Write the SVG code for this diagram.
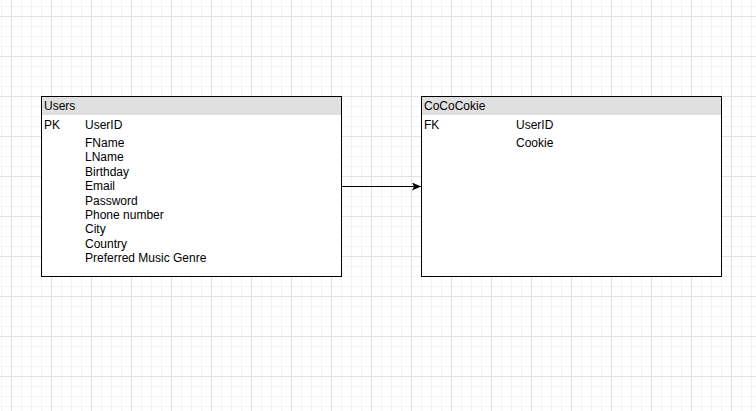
<svg xmlns="http://www.w3.org/2000/svg" width="756" height="411" viewBox="0 0 756 411">
<defs>
<pattern id="minor" x="1" y="6" width="10" height="10" patternUnits="userSpaceOnUse">
<path d="M0.5 0V10M0 0.5H10" stroke="#f3f3f3" stroke-width="1" fill="none"/>
</pattern>
<pattern id="major" x="11" y="16" width="40" height="40" patternUnits="userSpaceOnUse">
<path d="M0.5 0V40M0 0.5H40" stroke="#e2e2e2" stroke-width="1" fill="none"/>
</pattern>
<marker id="arrow" markerWidth="10" markerHeight="8" refX="9" refY="4" orient="auto" markerUnits="userSpaceOnUse">
<path d="M0 0L9 4L0 8L2 4Z" fill="#000"/>
</marker>
<style>
text{font-family:"Liberation Sans",Arial,sans-serif;font-size:12px;fill:#000}
.box{fill:#fff;stroke:#000;stroke-width:1}
.hdr{fill:#e0e0e0}
</style>
</defs>
<rect width="756" height="411" fill="#fff"/>
<rect width="756" height="411" fill="url(#minor)"/>
<rect width="756" height="411" fill="url(#major)"/>
<g id="connectors">
<path d="M342 186.5H421" stroke="#000" stroke-width="1" fill="none" marker-end="url(#arrow)"/>
</g>
<g id="users">
<rect class="box" x="41.5" y="96.5" width="300" height="180"/>
<rect class="hdr" x="42" y="97" width="299" height="18"/>
<text x="44" y="110">Users</text>
<text x="44" y="129">PK</text>
<text x="85" y="129">UserID</text>
<text x="85" y="146.5">FName</text>
<text x="85" y="161">LName</text>
<text x="85" y="175.5">Birthday</text>
<text x="85" y="190">Email</text>
<text x="85" y="204.5">Password</text>
<text x="85" y="219">Phone number</text>
<text x="85" y="233">City</text>
<text x="85" y="247.5">Country</text>
<text x="85" y="262">Preferred Music Genre</text>
</g>
<g id="cococokie">
<rect class="box" x="421.5" y="96.5" width="300" height="180"/>
<rect class="hdr" x="422" y="97" width="299" height="18"/>
<text x="424" y="110">CoCoCokie</text>
<text x="424" y="129">FK</text>
<text x="516" y="129">UserID</text>
<text x="516" y="146.5">Cookie</text>
</g>
</svg>
